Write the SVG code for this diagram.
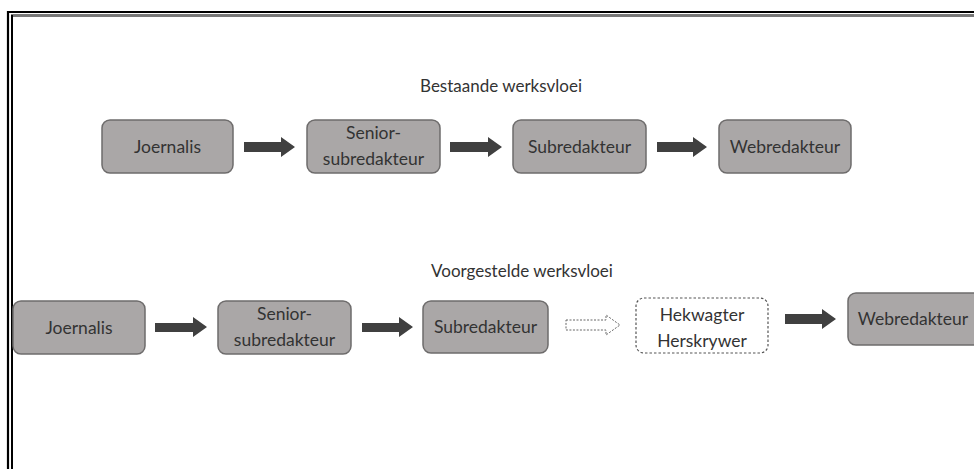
<svg xmlns="http://www.w3.org/2000/svg" width="974" height="469" viewBox="0 0 974 469">
<defs>
<style>
.box{fill:#aaa7a7;stroke:#6e6c6c;stroke-width:1.5}
.dbox{fill:#fff;stroke:#555;stroke-width:1.2;stroke-dasharray:2.5 2}
.t{font-family:Lato,"Open Sans",sans-serif;font-size:17.5px;fill:#333;text-anchor:middle}
.h{font-family:Lato,"Open Sans",sans-serif;font-size:17px;fill:#333;text-anchor:middle}
.arr{fill:#404040}
.darr{fill:#fff;stroke:#666;stroke-width:1;stroke-dasharray:2 1.5}
</style>
</defs>
<rect width="974" height="469" fill="#fff"/>
<g id="border" fill="none">
<path d="M8 469 V12 H974" stroke="#000" stroke-width="2.2"/>
<path d="M12 469 V15.5 H974" stroke="#000" stroke-width="2"/>
<path d="M13 15.5 H974" stroke="#777" stroke-width="2"/>
</g>
<text class="h" x="501" y="92">Bestaande werksvloei</text>
<text class="h" x="522" y="277">Voorgestelde werksvloei</text>
<g id="n1"><rect class="box" x="102" y="120" width="131" height="53" rx="8"/><text class="t" x="167.5" y="152.5">Joernalis</text></g>
<g id="n2"><rect class="box" x="307" y="120" width="133" height="53" rx="8"/><text class="t" x="373.5" y="139">Senior-</text><text class="t" x="373.5" y="165">subredakteur</text></g>
<g id="n3"><rect class="box" x="513" y="120" width="133" height="53" rx="8"/><text class="t" x="579.5" y="152.5">Subredakteur</text></g>
<g id="n4"><rect class="box" x="719" y="120" width="132" height="53" rx="8"/><text class="t" x="785" y="152.5">Webredakteur</text></g>
<g id="m1"><rect class="box" x="13" y="301" width="132" height="53" rx="8"/><text class="t" x="79" y="333.5">Joernalis</text></g>
<g id="m2"><rect class="box" x="218" y="301" width="133" height="53" rx="8"/><text class="t" x="284.5" y="320">Senior-</text><text class="t" x="284.5" y="346">subredakteur</text></g>
<g id="m3"><rect class="box" x="423" y="301" width="125" height="52" rx="8"/><text class="t" x="485.5" y="333">Subredakteur</text></g>
<g id="m4"><rect class="dbox" x="636" y="298" width="132" height="55" rx="8"/><text class="t" x="702" y="321">Hekwagter</text><text class="t" x="702" y="347">Herskrywer</text></g>
<g id="m5"><rect class="box" x="848" y="293" width="134" height="52" rx="8"/><text class="t" x="913" y="325">Webredakteur</text></g>
<g id="connectors">
<path class="arr" d="M244 142 H281 V137 L295 147 L281 157 V152 H244 Z"/>
<path class="arr" d="M450 142 H488 V137 L502 147 L488 157 V152 H450 Z"/>
<path class="arr" d="M657 142 H693 V137 L707 147 L693 157 V152 H657 Z"/>
<path class="arr" d="M155 323 H193 V317 L207 327 L193 337 V332 H155 Z"/>
<path class="arr" d="M362 323 H399 V317 L413 327 L399 337 V332 H362 Z"/>
<path class="darr" d="M566 320 H606 V315 L620 325 L606 335 V330 H566 Z"/>
<path class="arr" d="M785 314 H822 V309 L836 319 L822 329 V324 H785 Z"/>
</g>
</svg>
